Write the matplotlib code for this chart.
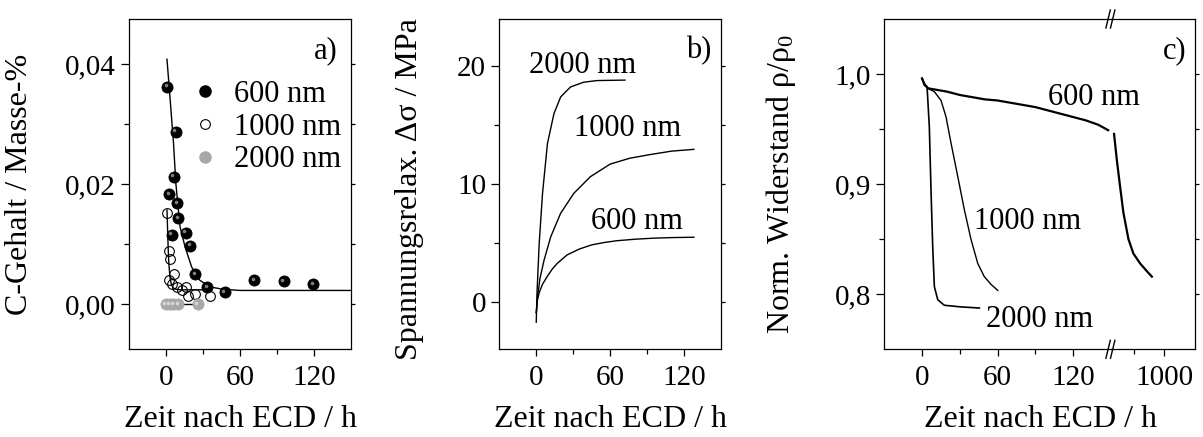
import matplotlib
matplotlib.use("Agg")
import matplotlib.pyplot as plt
from matplotlib.transforms import offset_copy
from matplotlib.lines import Line2D

# ---------------- data ----------------
# a) carbon content after ECD
t_c600 = [1.0, 8.0, 6.1, 2.6, 9.3, 10.1, 4.8, 16.0, 19.8, 23.8, 33.4, 47.6, 71.7, 95.4, 119.5]
c_c600 = [0.0362, 0.0287, 0.0212, 0.0183, 0.0168, 0.0143, 0.0116, 0.0119, 0.0097,
          0.0050, 0.0028, 0.0020, 0.0040, 0.0038, 0.0033]
t_c1000 = [0.8, 2.1, 3.5, 6.1, 2.6, 4.8, 8.8, 12.8, 16.0, 18.1, 23.4, 35.4]
c_c1000 = [0.0152, 0.0089, 0.0076, 0.0051, 0.0041, 0.0033, 0.0029, 0.0023, 0.0028,
           0.0013, 0.0017, 0.0013]
t_c2000 = [0, 3, 6, 10, 26]
c_c2000 = [0, 0, 0, 0, 0]

# fitted decay curves
t_fit600 = [0.8, 3.4, 6.1, 8.0, 9.3, 11.4, 15.4, 20.8, 27.4, 35.4, 46, 60, 150]
c_fit600 = [0.0408, 0.0340, 0.0268, 0.0201, 0.0173, 0.0129, 0.0096, 0.0062, 0.0040,
            0.0029, 0.0025, 0.0023, 0.0023]
t_fit1000 = [0.8, 1.5, 2.0, 2.5, 3.0, 3.5, 4.5, 6, 8, 12, 20, 37]
c_fit1000 = [0.0157, 0.0110, 0.0080, 0.0063, 0.0050, 0.0041, 0.0032, 0.0027, 0.0025,
             0.0024, 0.0024, 0.0024]
t_fit2000 = [0, 27]
c_fit2000 = [0, 0]

# b) stress relaxation
t_s600 = [0, 1, 2.4, 5, 9.1, 13, 17.2, 25, 35, 45, 55, 65, 80, 95, 110, 128]
s_s600 = [-0.9, 0.2, 0.8, 1.5, 2.2, 2.8, 3.3, 4.0, 4.5, 4.85, 5.05, 5.2, 5.33, 5.42, 5.47, 5.5]
t_s1000 = [0, 1.1, 3, 6.4, 11.8, 19.8, 30.5, 43.9, 60, 76, 92, 110, 128]
s_s1000 = [-0.9, 0.47, 2.0, 3.58, 5.55, 7.53, 9.22, 10.63, 11.7, 12.2, 12.5, 12.8, 12.95]
t_s2000 = [0, 0.6, 2.4, 5.1, 9.1, 14.4, 19.8, 27.8, 38.5, 49.2, 60, 72]
s_s2000 = [-1.7, 0.76, 4.99, 9.22, 13.45, 15.99, 17.39, 18.24, 18.64, 18.78, 18.8, 18.82]

# c) normalised resistance
t_r600 = [0, 2, 5, 10, 20, 30, 40, 50, 60, 70, 80, 90, 100, 110, 120, 130, 140, 148]
r_r600 = [0.996, 0.990, 0.987, 0.986, 0.984, 0.981, 0.979, 0.977, 0.976, 0.974, 0.972,
          0.970, 0.967, 0.964, 0.961, 0.958, 0.954, 0.949]
t_r600_late = [583, 606, 633, 661, 703, 744, 800, 856, 898]
r_r600_late = [0.9456, 0.922, 0.898, 0.874, 0.850, 0.837, 0.828, 0.821, 0.816]
t_r1000 = [0, 2, 4.5, 9.8, 15.1, 19.1, 23.1, 28.4, 33.6, 38.9, 44.3, 49.5, 54.8, 60.2]
r_r1000 = [0.996, 0.991, 0.987, 0.984, 0.976, 0.961, 0.937, 0.907, 0.877, 0.850, 0.828,
           0.816, 0.809, 0.8035]
t_r2000 = [0, 2, 4, 5.8, 7.2, 8.5, 9.8, 12.5, 17.7, 31, 45.6]
r_r2000 = [0.996, 0.991, 0.9885, 0.952, 0.892, 0.843, 0.807, 0.795, 0.790, 0.7885, 0.7875]

x_ticks = [0, 60, 120]
x_ticklabels = ["0", "60", "120"]

# ---------------- style ----------------
plt.rcParams.update({
    "font.family": ["Liberation Serif", "DejaVu Serif"],
    "mathtext.fontset": "custom",
    "mathtext.rm": "Liberation Serif",
    "mathtext.it": "Liberation Serif:italic",
    "font.size": 21,
    "axes.labelsize": 23,
    "axes.linewidth": 0.9,
    "xtick.major.size": 5, "xtick.minor.size": 3.5,
    "ytick.major.size": 5.5, "ytick.minor.size": 3.5,
    "xtick.major.width": 0.9, "xtick.minor.width": 0.9,
    "ytick.major.width": 0.9, "ytick.minor.width": 0.9,
    "xtick.direction": "out", "ytick.direction": "out",
    "xtick.major.pad": 6, "ytick.major.pad": 4,
})

W, H = 1203, 437
fig = plt.figure(figsize=(W / 100, H / 100), dpi=100)
LBL = 22  # size of in-plot annotations


def px_axes(x0, x1, y0=19, y1=349.3):
    return fig.add_axes([x0 / W, 1 - y1 / H, (x1 - x0) / W, (y1 - y0) / H])


def right_ticks(ax):
    ax.tick_params(axis="y", which="both", right=True, labelright=False)
    for t in ax.yaxis.get_major_ticks() + ax.yaxis.get_minor_ticks():
        t.tick2line.set_markersize(3)


def style_axes(ax, yticks, ylabels, yminor, xminor=(30, 90)):
    ax.set_xticks(x_ticks)
    ax.set_xticklabels(x_ticklabels)
    ax.set_xticks(list(xminor), minor=True)
    ax.set_yticks(yticks)
    ax.set_yticklabels(ylabels)
    ax.set_yticks(yminor, minor=True)
    right_ticks(ax)


def spheres(ax, x, y, face, light):
    ax.plot(x, y, "o", ms=8, mfc=face, mec=face, mew=0.6, ls="none", zorder=3)
    shift = offset_copy(ax.transData, fig=fig, x=-1.6, y=1.6, units="dots")
    ax.plot(x, y, "o", ms=2.6, mfc=light, mec="none", ls="none", zorder=4,
            transform=shift, alpha=0.9)


xlab = "Zeit nach ECD / h"
XLAB_Y = -0.17

# ---------------- a) ----------------
axa = px_axes(129, 351)
axa.plot(t_fit600, c_fit600, color="black", lw=1.0, zorder=2)
axa.plot(t_fit1000, c_fit1000, color="black", lw=1.0, zorder=2)
axa.plot(t_fit2000, c_fit2000, color="black", lw=1.0, zorder=2)
spheres(axa, t_c600, c_c600, "black", "#8a8a8a")
axa.plot(t_c1000, c_c1000, "o", ms=7, mfc="none", mec="black", mew=0.8, ls="none", zorder=3)
spheres(axa, t_c2000, c_c2000, "#a8a8a8", "#dcdcdc")
axa.set_xlim(-30, 150)
axa.set_ylim(-0.0075, 0.0475)
style_axes(axa, [0, 0.02, 0.04], ["0,00", "0,02", "0,04"], [0.01, 0.03])
axa.set_xlabel(xlab)
axa.set_ylabel("C-Gehalt / Masse-%")
axa.xaxis.set_label_coords(0.5, XLAB_Y)
axa.yaxis.set_label_coords(-0.43, 0.5)
axa.text(0.94, 0.905, "a)", transform=axa.transAxes, ha="right", va="center", fontsize=LBL)

h600 = Line2D([], [], marker="o", ms=8, mfc="black", mec="black", ls="none")
h1000 = Line2D([], [], marker="o", ms=7, mfc="none", mec="black", mew=0.8, ls="none")
h2000 = Line2D([], [], marker="o", ms=8, mfc="#a8a8a8", mec="#a8a8a8", ls="none")
axa.legend([h600, h1000, h2000], ["600 nm", "1000 nm", "2000 nm"],
           loc="upper right", bbox_to_anchor=(0.955, 0.815), frameon=False,
           handlelength=0.8, handletextpad=0.55, labelspacing=0.12,
           borderaxespad=0.0, borderpad=0.0, fontsize=LBL)

# ---------------- b) ----------------
axb = px_axes(499.3, 721)
axb.plot(t_s2000, s_s2000, color="black", lw=1.0)
axb.plot(t_s1000, s_s1000, color="black", lw=1.0)
axb.plot(t_s600, s_s600, color="black", lw=1.0)
axb.set_xlim(-30, 150)
axb.set_ylim(-4, 24)
style_axes(axb, [0, 10, 20], ["0", "10", "20"], [5, 15])
axb.set_xlabel(xlab)
axb.set_ylabel("Spannungsrelax. Δσ / MPa")
axb.xaxis.set_label_coords(0.5, XLAB_Y)
axb.yaxis.set_label_coords(-0.34, 0.485)
axb.text(0.958, 0.905, "b)", transform=axb.transAxes, ha="right", va="center", fontsize=LBL)
axb.text(38, 20.1, "2000 nm", ha="center", va="center", fontsize=LBL)
axb.text(74, 14.7, "1000 nm", ha="center", va="center", fontsize=LBL)
axb.text(82, 6.8, "600 nm", ha="center", va="center", fontsize=LBL)

# ---------------- c) ----------------
axc = px_axes(884.3, 1110.7)
axc2 = px_axes(1110.7, 1195.3)
axc2.patch.set_visible(False)
axc.plot(t_r600, r_r600, color="black", lw=1.6)
axc.plot(t_r1000, r_r1000, color="black", lw=1.0)
axc.plot(t_r2000, r_r2000, color="black", lw=1.2)
axc2.plot(t_r600_late, r_r600_late, color="black", lw=1.6)
axc.set_xlim(-30, 150)
axc2.set_xlim(555, 1260)
for ax in (axc, axc2):
    ax.set_ylim(0.75, 1.05)
axc.set_xticks(x_ticks)
axc.set_xticklabels(x_ticklabels)
axc.set_xticks([30, 90], minor=True)
axc.set_yticks([0.8, 0.9, 1.0])
axc.set_yticklabels(["0,8", "0,9", "1,0"])
axc.set_yticks([0.85, 0.95], minor=True)
axc.spines["right"].set_visible(False)
axc2.spines["left"].set_visible(False)
axc2.set_xticks([1000])
axc2.set_xticklabels(["1000"])
axc2.set_xticks([750], minor=True)
axc2.set_yticks([0.8, 0.9, 1.0])
axc2.set_yticks([0.85, 0.95], minor=True)
axc2.tick_params(axis="y", which="both", left=False, labelleft=False)
right_ticks(axc2)

axc.set_xlabel(xlab)
axc.xaxis.set_label_coords(0.69, XLAB_Y)
axc.set_ylabel("Norm. Widerstand ρ/ρ$_0$")
axc.yaxis.set_label_coords(-0.38, 0.5)
axc2.text(0.898, 0.905, "c)", transform=axc2.transAxes, ha="right", va="center", fontsize=LBL)
axc.text(136.7, 0.979, "600 nm", ha="center", va="center", fontsize=LBL, zorder=10)
axc.text(41, 0.866, "1000 nm", ha="left", va="center", fontsize=LBL)
axc.text(51, 0.777, "2000 nm", ha="left", va="center", fontsize=LBL)

# axis-break marks on top and bottom spines
xb = 1110.7
for yc in (19, 349.3):
    for dx in (-2.6, 2.0):
        fig.add_artist(Line2D([(xb + dx - 2.2) / W, (xb + dx + 2.2) / W],
                              [1 - (yc + 9) / H, 1 - (yc - 9) / H],
                              color="black", lw=1.0, transform=fig.transFigure))

fig.savefig("out.png", dpi=100)
